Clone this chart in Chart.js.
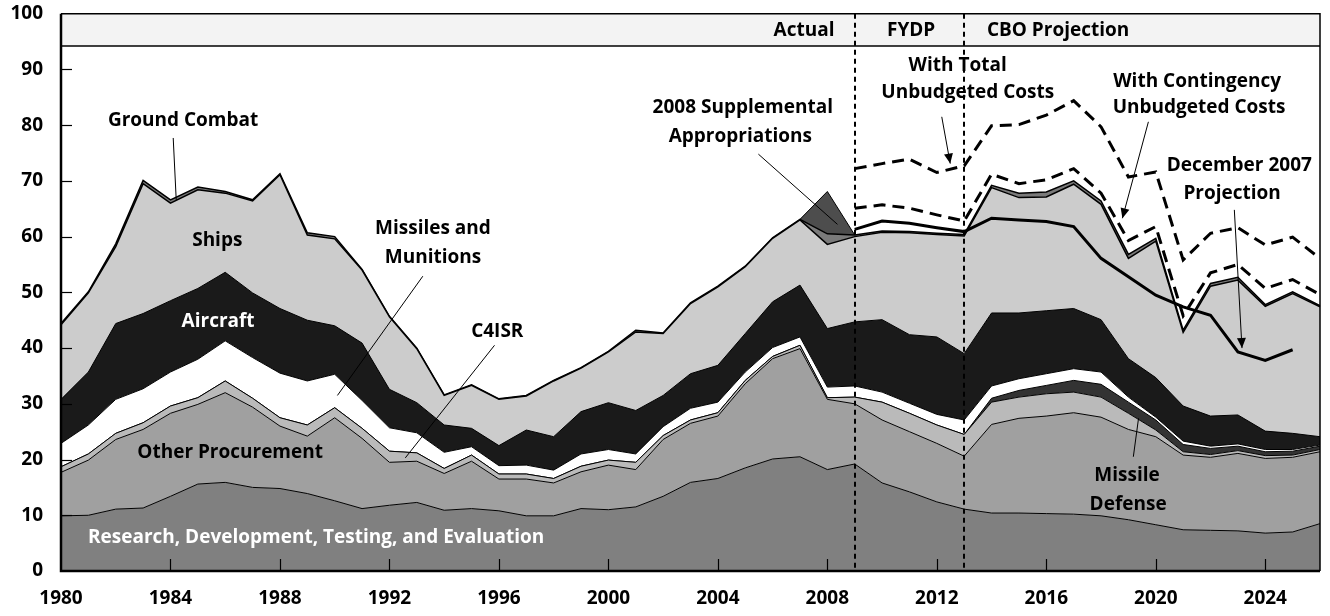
<!DOCTYPE html>
<html><head><meta charset="utf-8">
<script src="https://cdn.jsdelivr.net/npm/chart.js@4.4.1/dist/chart.umd.min.js"></script>
<style>html,body{margin:0;padding:0;background:#fff;}#wrap{width:1330px;height:616px;position:relative;}</style>
</head><body><div id="wrap"><canvas id="c"></canvas></div>
<script>
// ---- categories ----
const years = [1980,1981,1982,1983,1984,1985,1986,1987,1988,1989,1990,1991,1992,1993,1994,1995,1996,1997,1998,1999,
  2000,2001,2002,2003,2004,2005,2006,2007,2008,2009,2010,2011,2012,2013,2014,2015,2016,2017,2018,2019,
  2020,2021,2022,2023,2024,2025,2026];
const yTicks = [0,10,20,30,40,50,60,70,80,90,100];
const xTickYears = [1980,1984,1988,1992,1996,2000,2004,2008,2012,2016,2020,2024];

// ---- stacked series (billions of dollars) ----
const rdte = [9.9,10.0,11.1,11.3,13.4,15.6,15.9,15.0,14.8,13.9,12.6,11.2,11.8,12.3,10.9,11.2,10.8,9.9,9.9,11.2,
  11.0,11.5,13.4,15.9,16.6,18.5,20.1,20.5,18.2,19.2,15.8,14.2,12.4,11.1,10.4,10.4,10.3,10.2,9.9,9.2,
  8.3,7.4,7.3,7.2,6.8,7.0,8.5];
const otherProcurement = [7.8,9.9,12.5,14.1,14.9,14.3,16.1,14.4,11.2,10.3,14.9,12.6,7.7,7.4,6.6,8.5,5.7,6.6,5.9,6.6,
  8.0,6.7,10.2,10.6,11.2,15.1,18.0,19.4,12.6,10.8,11.3,10.8,10.5,9.5,15.9,17.0,17.5,18.2,17.7,16.2,
  15.8,13.4,13.1,13.9,13.4,13.4,12.9];
const c4isr = [1.0,1.1,1.1,1.2,1.3,1.2,2.1,1.6,1.5,2.0,1.8,1.8,2.0,1.5,0.9,1.1,0.9,0.9,0.8,1.0,
  0.9,1.3,0.7,0.6,0.6,0.6,0.4,0.6,0.3,1.2,3.2,3.3,3.3,3.9,4.0,3.8,4.0,3.7,3.6,2.9,
  1.2,0.6,0.5,0.5,0.5,0.4,0.4];
const missileDefense = [0,0,0,0,0,0,0,0,0,0,0,0,0,0,0,0,0,0,0,0,
  0,0,0,0,0,0,0,0,0,0,0,0,0,0,0.7,1.2,1.5,2.1,2.3,2.0,
  1.8,1.3,1.1,0.8,0.7,0.7,0.6];
const missilesMunitions = [4.2,5.2,6.1,6.1,6.1,6.9,7.2,7.3,8.0,7.9,6.0,5.0,4.2,3.6,2.9,1.5,1.5,1.6,1.5,2.2,
  1.9,1.5,1.6,2.1,1.9,1.5,1.6,1.5,1.9,2.0,1.8,1.8,1.9,2.6,2.2,2.1,2.1,2.1,2.2,0.9,
  0.5,0.6,0.4,0.4,0.4,0.3,0.2];
const aircraft = [7.9,9.5,13.6,13.5,12.8,12.7,12.3,11.6,11.6,10.9,8.7,10.3,6.9,5.4,4.9,3.3,3.6,6.3,6.0,7.6,
  8.4,7.8,5.6,6.2,6.6,6.9,8.2,9.3,10.5,11.5,13.0,12.3,13.9,11.9,13.1,11.8,11.3,10.8,9.4,6.9,
  7.1,6.3,5.4,5.2,3.3,2.9,1.5];
const ships = [13.4,14.2,13.8,23.3,17.5,17.7,14.2,16.5,24.0,15.3,15.6,13.1,13.0,9.7,5.3,7.7,8.3,6.1,10.0,7.8,
  9.1,14.1,11.1,12.6,14.1,12.0,11.4,11.7,15.1,15.3,15.7,18.3,18.4,21.1,22.5,20.7,20.4,22.3,20.7,18.0,
  24.5,13.2,23.3,24.2,22.4,25.1,23.3];
const groundCombat = [0.2,0.2,0.5,0.6,0.6,0.5,0.3,0.2,0.2,0.4,0.4,0.1,0.1,0.1,0.1,0.1,0.1,0.1,0.1,0.1,
  0.1,0.3,0.1,0.1,0.1,0.1,0.1,0.1,1.9,0.3,0.2,0.2,0.2,0.3,0.4,0.8,0.9,0.6,0.6,0.7,
  0.5,0.4,0.5,0.5,0.3,0.3,0.2];
const supplementalYears = [2007,2008,2009];
const supplemental2008 = [0,7.6,0];

// ---- projection lines (totals), starting in 2009 ----
const projStart = 2009;
const december2007 = [61.3,62.8,62.4,61.6,60.9,63.3,63.0,62.7,61.8,56.1,52.8,49.5,47.4,45.9,39.3,37.8,39.7];
const withContingency = [65.1,65.7,65.1,63.9,62.8,71.2,69.5,70.2,72.2,67.8,59.3,61.8,45.8,53.5,55.0,50.7,52.3,49.6];
const withTotal = [72.2,73.1,73.9,71.5,72.7,79.9,80.1,81.8,84.4,79.7,70.7,71.6,55.8,60.6,61.6,58.5,59.9,56.1];

const periodBreaks = [2009,2013];
const headerBottom = 94.2;

const FONT = "'Open Sans', 'DejaVu Sans', sans-serif";
Chart.defaults.font.family = FONT;
Chart.defaults.font.weight = 'bold';
Chart.defaults.color = '#000';

function area(label, data, color, bw, first){
  return {label, data, backgroundColor: color, borderColor:'#000', borderWidth: bw,
    fill: first ? 'origin' : '-1', stack:'areas', pointRadius:0, tension:0, order:1};
}
function proj(label, vals, dash, stack){
  return {label, data: years.map(y => (y >= projStart && vals[y-projStart] !== undefined) ? vals[y-projStart] : null),
    borderColor:'#000', borderWidth:3, borderDash: dash, fill:false, stack, pointRadius:0, tension:0, order:0,
    borderCapStyle:'butt', spanGaps:false};
}

const datasets = [
  area('Research, Development, Testing, and Evaluation', rdte, '#808080', 1, true),
  area('Other Procurement', otherProcurement, '#a0a0a0', 1),
  area('C4ISR', c4isr, '#bababa', 1),
  area('Missile Defense', missileDefense, '#333333', 1),
  area('Missiles and Munitions', missilesMunitions, '#ffffff', 1),
  area('Aircraft', aircraft, '#1a1a1a', 1),
  area('Ships', ships, '#cccccc', 1.5),
  area('Ground Combat', groundCombat, '#7a7a7a', 1.5),
  Object.assign(area('2008 Supplemental Appropriations',
    years.map(y => { const i = supplementalYears.indexOf(y); return i >= 0 ? supplemental2008[i] : null; }),
    '#4d4d4d', 1), {spanGaps:false}),
  proj('December 2007 Projection', december2007, [], 'p1'),
  proj('With Contingency Unbudgeted Costs', withContingency, [12,7], 'p2'),
  proj('With Total Unbudgeted Costs', withTotal, [12,7], 'p3')
];

// annotation anchors in data units (year, value)
const labels = [
  {t:'Ground Combat', yr:1984.46, v:80.9, c:'#000'},
  {t:'Ships', yr:1985.71, v:59.3, c:'#000'},
  {t:'Aircraft', yr:1985.74, v:44.8, c:'#fff'},
  {t:'Other Procurement', yr:1986.18, v:21.3, c:'#000'},
  {t:'Research, Development, Testing, and Evaluation', yr:1989.32, v:6.0, c:'#fff'},
  {t:'Missiles and', yr:1993.59, v:61.5, c:'#000'},
  {t:'Munitions', yr:1993.59, v:56.3, c:'#000'},
  {t:'C4ISR', yr:1995.94, v:43.0, c:'#000'},
  {t:'2008 Supplemental', yr:2004.91, v:83.1, c:'#000'},
  {t:'Appropriations', yr:2004.82, v:78.0, c:'#000'},
  {t:'With Total', yr:2012.76, v:90.6, c:'#000'},
  {t:'Unbudgeted Costs', yr:2013.13, v:85.8, c:'#000'},
  {t:'With Contingency', yr:2021.51, v:87.9, c:'#000'},
  {t:'Unbudgeted Costs', yr:2021.58, v:83.1, c:'#000'},
  {t:'December 2007', yr:2023.05, v:72.7, c:'#000'},
  {t:'Projection', yr:2022.79, v:67.7, c:'#000'},
  {t:'Missile', yr:2018.95, v:17.2, c:'#000'},
  {t:'Defense', yr:2018.99, v:12.0, c:'#000'}
];
const pointers = [
  {a:[1984.10,77.7], b:[1984.21,66.6], arrow:false},
  {a:[1993.22,52.9], b:[1990.10,31.5], arrow:false},
  {a:[1995.84,40.5], b:[1992.58,20.3], arrow:false},
  {a:[2005.48,74.8], b:[2008.37,62.2], arrow:false},
  {a:[2012.18,81.5], b:[2012.49,73.1], arrow:true},
  {a:[2019.73,80.6], b:[2018.78,63.3], arrow:true},
  {a:[2022.87,64.8], b:[2023.15,40.0], arrow:true},
  {a:[2019.18,20.5], b:[2019.37,27.4], arrow:false}
];
const headers = [
  {t:'Actual', yr:2008.26, align:'right'},
  {t:'FYDP', yr:2011.06, align:'center'},
  {t:'CBO Projection', yr:2016.43, align:'center'}
];
const headerValue = 97.0;

const deco = {
  id:'deco',
  beforeDatasetsDraw(chart){
    const {ctx, chartArea:a, scales:{y}} = chart;
    const yb = y.getPixelForValue(headerBottom);
    ctx.save();
    ctx.fillStyle = '#f3f3f3';
    ctx.fillRect(a.left, a.top, a.right - a.left, yb - a.top);
    ctx.restore();
  },
  afterDatasetsDraw(chart){
    const {ctx, chartArea:a, scales:{x, y}} = chart;
    const X = yr => x.getPixelForValue(yr - years[0]);
    ctx.save();
    const yb = y.getPixelForValue(headerBottom);
    ctx.strokeStyle = '#000'; ctx.lineWidth = 1.5;
    ctx.beginPath(); ctx.moveTo(a.left, yb); ctx.lineTo(a.right, yb); ctx.stroke();
    ctx.lineWidth = 2; ctx.setLineDash([5,4]);
    periodBreaks.forEach(yr => {
      const px = Math.round(X(yr));
      ctx.beginPath(); ctx.moveTo(px, a.top); ctx.lineTo(px, a.bottom); ctx.stroke();
    });
    ctx.setLineDash([]);
    ctx.lineWidth = 1.5;
    ctx.beginPath(); ctx.moveTo(a.left, a.top); ctx.lineTo(a.right, a.top); ctx.lineTo(a.right, a.bottom); ctx.stroke();
    ctx.lineWidth = 2.5;
    ctx.beginPath(); ctx.moveTo(a.left, a.top); ctx.lineTo(a.left, a.bottom); ctx.lineTo(a.right, a.bottom); ctx.stroke();
    ctx.lineWidth = 1.2;
    yTicks.forEach(v => { if (v === 0 || v === 100) return;
      const py = Math.round(y.getPixelForValue(v)) + 0.5;
      ctx.beginPath(); ctx.moveTo(a.left, py); ctx.lineTo(a.left + 11, py); ctx.stroke(); });
    xTickYears.forEach(yr => { if (yr === years[0]) return;
      const px = Math.round(X(yr)) + 0.5;
      ctx.beginPath(); ctx.moveTo(px, a.bottom); ctx.lineTo(px, a.bottom - 12); ctx.stroke(); });
    ctx.lineWidth = 1;
    pointers.forEach(p => {
      const x1 = X(p.a[0]), y1 = y.getPixelForValue(p.a[1]);
      const x2 = X(p.b[0]), y2 = y.getPixelForValue(p.b[1]);
      ctx.beginPath(); ctx.moveTo(x1, y1); ctx.lineTo(x2, y2); ctx.stroke();
      if (p.arrow) {
        const ang = Math.atan2(y2 - y1, x2 - x1), L = 10, W = 4.5;
        ctx.beginPath();
        ctx.moveTo(x2, y2);
        ctx.lineTo(x2 - L*Math.cos(ang) + W*Math.sin(ang), y2 - L*Math.sin(ang) - W*Math.cos(ang));
        ctx.lineTo(x2 - L*Math.cos(ang) - W*Math.sin(ang), y2 - L*Math.sin(ang) + W*Math.cos(ang));
        ctx.closePath(); ctx.fillStyle = '#000'; ctx.fill();
      }
    });
    ctx.font = "bold 19px " + FONT;
    ctx.textBaseline = 'middle';
    labels.forEach(l => { ctx.fillStyle = l.c; ctx.textAlign = 'center';
      ctx.fillText(l.t, X(l.yr), y.getPixelForValue(l.v)); });
    ctx.fillStyle = '#000';
    headers.forEach(h => { ctx.textAlign = h.align; ctx.fillText(h.t, X(h.yr), y.getPixelForValue(headerValue)); });
    ctx.restore();
  }
};

new Chart(document.getElementById('c'), {
  type:'line',
  data:{labels: years, datasets},
  options:{
    responsive:true, maintainAspectRatio:false, animation:false,
    layout:{padding:{top:13.7, right:10, left:0, bottom:0}},
    plugins:{legend:{display:false}, tooltip:{enabled:false}, filler:{propagate:false}},
    elements:{line:{borderJoinStyle:'miter'}},
    scales:{
      x:{type:'category', offset:false,
        grid:{display:false, drawTicks:false}, border:{display:false},
        ticks:{autoSkip:false, maxRotation:0, padding:16, font:{size:19, weight:'bold'}, color:'#000',
          callback(v, i){ const yr = years[i]; return xTickYears.includes(yr) ? String(yr) : ''; }},
        afterFit(s){ s.height = 45; s.paddingLeft = 0; s.paddingRight = 0; }},
      y:{stacked:true, min:0, max:100,
        grid:{display:false, drawTicks:false}, border:{display:false},
        ticks:{stepSize:10, padding:18, font:{size:19, weight:'bold'}, color:'#000'},
        afterFit(s){ s.width = 61; s.paddingTop = 0; s.paddingBottom = 0; }}
    }
  },
  plugins:[deco]
});
</script></body></html>
